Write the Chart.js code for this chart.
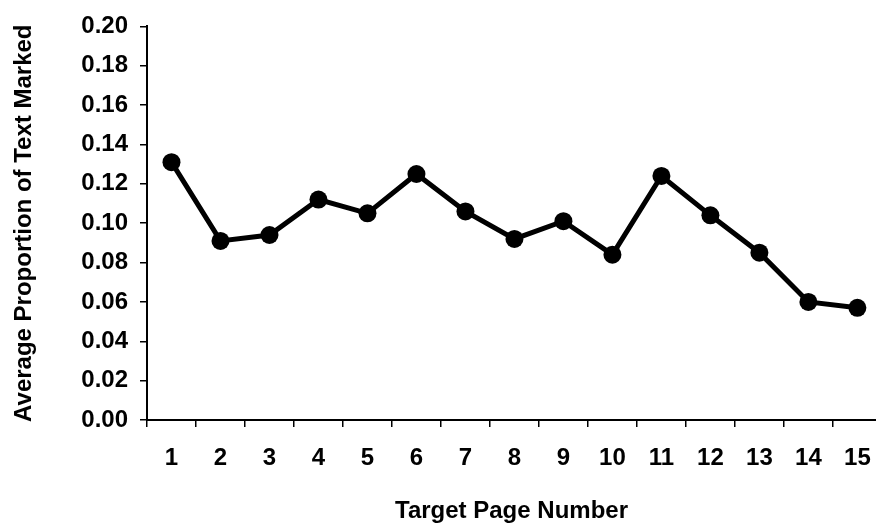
<!DOCTYPE html>
<html lang="en">
<head>
    <meta charset="UTF-8">
    <title>Average Proportion of Text Marked by Target Page</title>
    <script src="https://cdn.jsdelivr.net/npm/chart.js"></script>
    <style>
        html, body { margin: 0; padding: 0; background: #fff; }
        #pageChart { display: block; }
    </style>
</head>
<body>
    <canvas id="pageChart" width="876" height="530"></canvas>

    <script>
        // values
        const pageNumbers = [1, 2, 3, 4, 5, 6, 7, 8, 9, 10, 11, 12, 13, 14, 15];
        const proportionMarked = [0.131, 0.091, 0.094, 0.112, 0.105, 0.125, 0.106, 0.092, 0.101, 0.084, 0.124, 0.104, 0.085, 0.060, 0.057];
        const yMin = 0;
        const yMax = 0.20;
        const yStep = 0.02;
        // the original figure is cut off at the right, just before the tick after page 15
        const xMin = 0.5;
        const xMax = 15.38;

        const fontFamily = "'Liberation Sans', Arial, sans-serif";

        const points = pageNumbers.map((p, i) => ({ x: p, y: proportionMarked[i] }));

        // tick marks sit between pages (x.5), labels on whole pages
        function isBetweenPages(v) {
            const twice = Math.round(v * 2);
            return Math.abs(v * 2 - twice) < 1e-6 && twice % 2 === 1;
        }

        const ctx = document.getElementById('pageChart').getContext('2d');
        const chart = new Chart(ctx, {
            type: 'line',
            data: {
                datasets: [{
                    label: 'Average Proportion of Text Marked',
                    data: points,
                    borderColor: '#000',
                    backgroundColor: '#000',
                    borderWidth: 5,
                    pointRadius: 9,
                    pointBackgroundColor: '#000',
                    pointBorderWidth: 0,
                    tension: 0
                }]
            },
            options: {
                responsive: false,
                animation: false,
                layout: {
                    autoPadding: false, // no extra room for the point radius, axis runs to the edge
                    padding: { left: 0, top: 22, right: 0, bottom: 0 }
                },
                plugins: {
                    legend: { display: false },
                    tooltip: { enabled: false }
                },
                scales: {
                    x: {
                        type: 'linear',
                        min: xMin,
                        max: xMax,
                        grid: {
                            drawOnChartArea: false,
                            lineWidth: 1.5,
                            tickLength: 7,
                            color: c => isBetweenPages(c.tick.value) ? '#000' : 'rgba(0,0,0,0)'
                        },
                        border: { color: '#000', width: 2 },
                        ticks: {
                            stepSize: 0.5,
                            includeBounds: false,
                            autoSkip: false,
                            color: '#000',
                            padding: 17,
                            maxRotation: 0,
                            font: { family: fontFamily, size: 24, weight: 'bold' },
                            callback: v => Number.isInteger(v) ? String(v) : ''
                        },
                        title: {
                            display: true,
                            text: 'Target Page Number',
                            color: '#000',
                            padding: { top: 0, bottom: 4 },
                            font: { family: fontFamily, size: 24, weight: 'bold' }
                        },
                        afterFit: function(scale) {
                            scale.height = 110;
                            scale.paddingLeft = 0;
                            scale.paddingRight = 0;
                        }
                    },
                    y: {
                        min: yMin,
                        max: yMax,
                        grid: { drawOnChartArea: false, color: '#000', lineWidth: 1.5, tickLength: 7 },
                        border: { color: '#000', width: 2 },
                        ticks: {
                            stepSize: yStep,
                            color: '#000',
                            padding: 12,
                            font: { family: fontFamily, size: 24, weight: 'bold' },
                            callback: function(value) { return Number(value).toFixed(2); }
                        },
                        title: {
                            display: true,
                            text: 'Average Proportion of Text Marked',
                            color: '#000',
                            padding: { top: 10, bottom: 0 },
                            font: { family: fontFamily, size: 24, weight: 'bold' }
                        },
                        afterFit: function(scale) { scale.width = 147; }
                    }
                }
            }
        });
    </script>
</body>
</html>
